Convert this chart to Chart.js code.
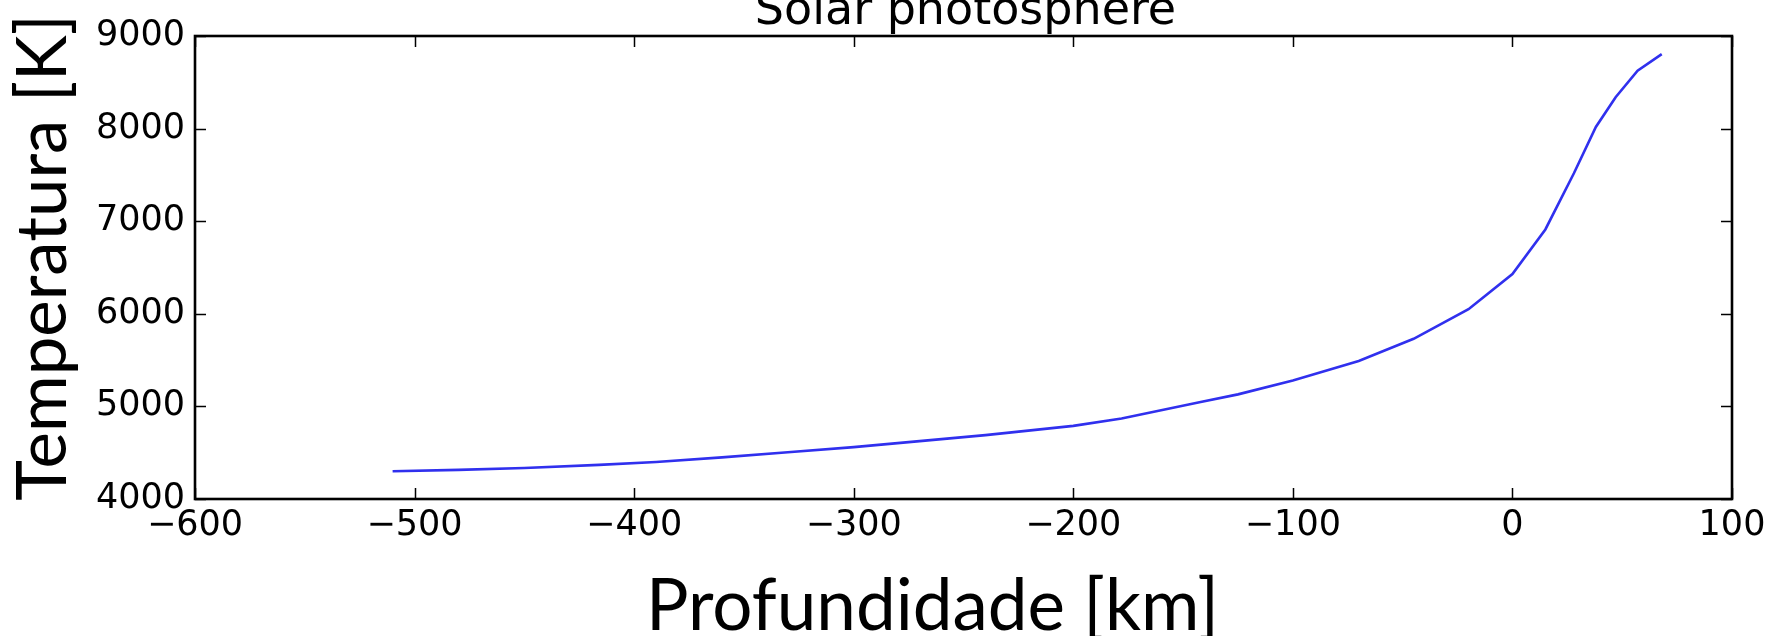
<!DOCTYPE html>
<html>
<head>
<meta charset="utf-8">
<script src="https://cdn.jsdelivr.net/npm/chart.js@4.4.1/dist/chart.umd.min.js"></script>
<style>
  html, body { margin: 0; padding: 0; background: #fff; }
  #wrap { width: 1791px; height: 636px; position: relative; }
</style>
</head>
<body>
<div id="wrap"><canvas id="c" width="1791" height="636"></canvas></div>
<script>
// Temperature profile of the solar photosphere vs. depth
const depthKm = [-510, -480, -450, -416, -390, -360, -330, -300, -270, -240, -200, -178, -142, -125, -100, -70, -45, -20, 0, 15, 28, 38, 47, 57, 68];
const temperatureK = [4300, 4315, 4335, 4368, 4400, 4450, 4505, 4560, 4625, 4690, 4790, 4870, 5047, 5130, 5280, 5490, 5730, 6050, 6430, 6911, 7518, 8018, 8339, 8625, 8804];

const xTickValues = [-600, -500, -400, -300, -200, -100, 0, 100];
const yTickValues = [4000, 5000, 6000, 7000, 8000, 9000];

const chartTitle = 'Solar photosphere';
const xAxisTitle = 'Profundidade [km]';
const yAxisTitle = 'Temperatura [K]';

const tickFont = { family: 'DejaVu Sans', size: 35 };
const captionFont = 'Lato';

const points = depthKm.map((d, i) => ({ x: d, y: temperatureK[i] }));

const fmt = v => (v < 0 ? '\u2212' + Math.abs(v) : String(v));

// White page behind the plot
const background = {
  id: 'background',
  beforeDraw(chart) {
    const ctx = chart.ctx;
    ctx.save();
    ctx.fillStyle = '#fff';
    ctx.fillRect(0, 0, chart.width, chart.height);
    ctx.restore();
  }
};

// Boxed axes with inward tick marks on all four sides
const frameTicks = {
  id: 'frameTicks',
  afterDatasetsDraw(chart) {
    const { ctx, chartArea: a, scales: { x, y } } = chart;
    const len = 11;
    ctx.save();
    ctx.strokeStyle = '#000';
    ctx.lineWidth = 1.5;
    ctx.beginPath();
    x.ticks.forEach(t => {
      const px = Math.round(x.getPixelForValue(t.value)) + 0.5;
      ctx.moveTo(px, a.bottom); ctx.lineTo(px, a.bottom - len);
      ctx.moveTo(px, a.top); ctx.lineTo(px, a.top + len);
    });
    y.ticks.forEach(t => {
      const py = Math.round(y.getPixelForValue(t.value)) + 0.5;
      ctx.moveTo(a.left, py); ctx.lineTo(a.left + len, py);
      ctx.moveTo(a.right, py); ctx.lineTo(a.right - len, py);
    });
    ctx.stroke();
    ctx.lineWidth = 2.6;
    ctx.strokeRect(a.left, a.top, a.right - a.left, a.bottom - a.top);
    ctx.restore();
  }
};

// Chart title and axis captions
const captions = {
  id: 'captions',
  afterDraw(chart) {
    const { ctx, chartArea: a } = chart;
    ctx.save();
    ctx.fillStyle = '#000';
    ctx.textBaseline = 'alphabetic';
    ctx.textAlign = 'center';

    ctx.font = '46px "DejaVu Sans"';
    ctx.fillText(chartTitle, (a.left + a.right) / 2 + 2, a.top - 12);

    ctx.font = '71px "' + captionFont + '"';
    ctx.fillText(xAxisTitle, (a.left + a.right) / 2 - 31, a.bottom + 131);

    ctx.font = '69px "' + captionFont + '"';
    ctx.translate(a.left - 129, (a.top + a.bottom) / 2 - 10);
    ctx.rotate(-Math.PI / 2);
    ctx.fillText(yAxisTitle, 0, 0);
    ctx.restore();
  }
};

new Chart(document.getElementById('c'), {
  type: 'line',
  data: {
    datasets: [{
      data: points,
      borderColor: 'rgb(48, 48, 238)',
      borderWidth: 2.6,
      pointRadius: 0,
      tension: 0,
      fill: false
    }]
  },
  options: {
    responsive: false,
    animation: false,
    events: [],
    layout: { padding: { top: 36, right: 59, left: 0, bottom: 0 } },
    plugins: { legend: { display: false }, tooltip: { enabled: false }, title: { display: false } },
    scales: {
      x: {
        type: 'linear',
        min: -600, max: 100,
        afterBuildTicks: s => { s.ticks = xTickValues.map(v => ({ value: v })); },
        afterFit: s => { s.height = 137; },
        grid: { display: false, drawTicks: false },
        border: { display: false },
        ticks: { color: '#000', font: tickFont, padding: 6, autoSkip: false, maxRotation: 0, callback: v => fmt(v) }
      },
      y: {
        type: 'linear',
        min: 4000, max: 9000,
        afterBuildTicks: s => { s.ticks = yTickValues.map(v => ({ value: v })); },
        afterFit: s => { s.width = 195; },
        grid: { display: false, drawTicks: false },
        border: { display: false },
        ticks: { color: '#000', font: tickFont, padding: 10, autoSkip: false, callback: v => fmt(v) }
      }
    }
  },
  plugins: [background, frameTicks, captions]
});
</script>
</body>
</html>
